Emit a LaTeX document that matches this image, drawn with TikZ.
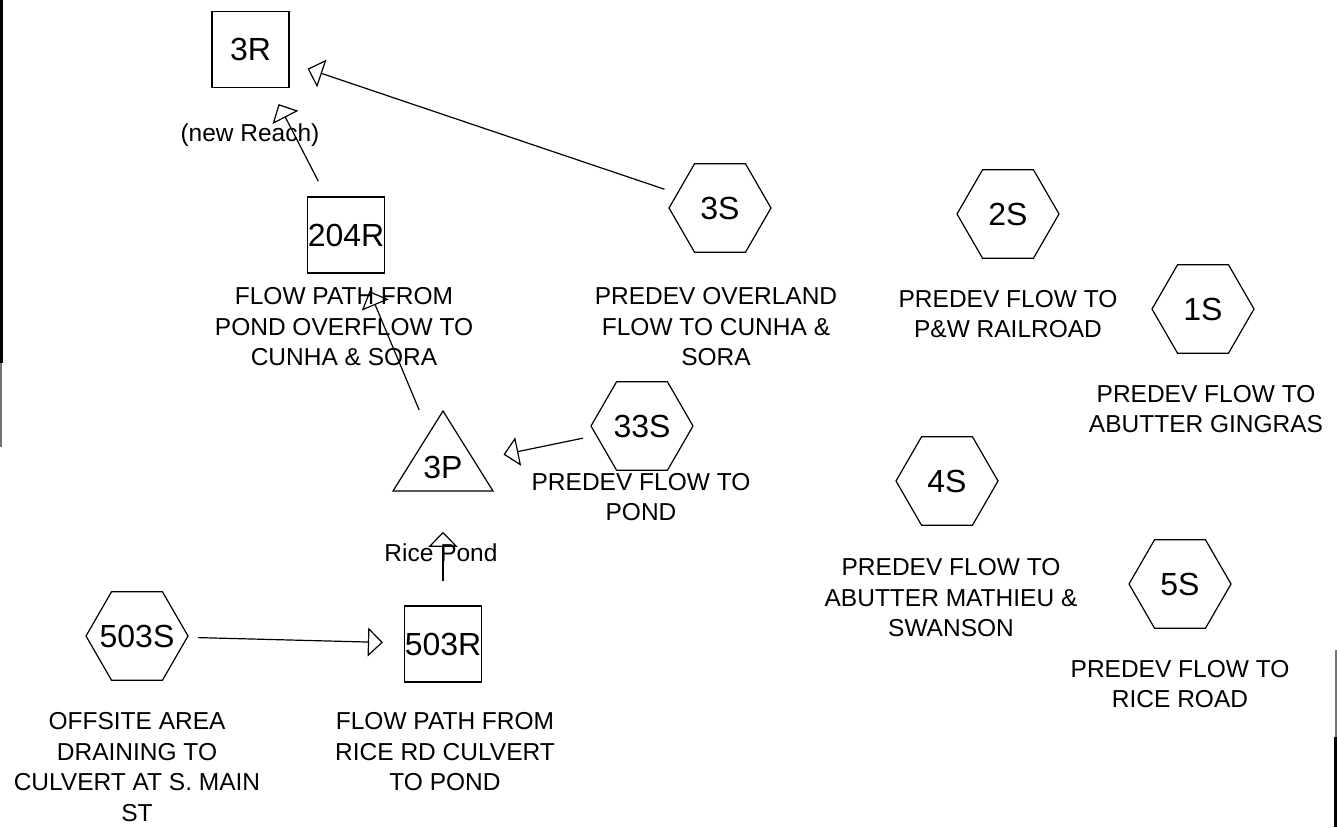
\documentclass[tikz,border=0pt]{standalone}
\usepackage{fontspec}
\setmainfont{Liberation Sans}
\usetikzlibrary{arrows.meta,shapes.geometric}
\begin{document}
\begin{tikzpicture}[x=1pt,y=-1pt,
  lbl/.style={align=center, font=\fontsize{24.5}{30.5}\selectfont, inner sep=0pt},
  nodefont/.style={font=\fontsize{32}{38}\selectfont},
  hexnode/.style={draw, line width=1.2pt, regular polygon, regular polygon sides=6,
    minimum size=102pt, inner sep=0pt, nodefont},
  boxnode/.style={draw, line width=1.2pt, rectangle, minimum width=77pt,
    minimum height=76pt, inner sep=0pt, nodefont},
  flow/.style={line width=1.2pt, -{Triangle[open, length=15pt, width=29pt]}}
]
\useasboundingbox[fill=white] (0,0) rectangle (1337,827);

% scan edge marks
\fill[black] (0,0) rectangle (3,363);
\fill[black!55] (0,363) rectangle (2,447);
\fill[black!55] (1335,650) rectangle (1337,737);
\fill[black] (1334,737) rectangle (1337,827);

% nodes
\node[boxnode] (n3R) at (250.5,49.5) {3R};
\node[boxnode] (n204R) at (346,235) {204R};
\node[boxnode] (n503R) at (443,644) {503R};

\node[hexnode] (n3S) at (720,208) {3S};
\node[hexnode] (n2S) at (1008,214) {2S};
\node[hexnode] (n1S) at (1203,309) {1S};
\node[hexnode] (n33S) at (642,426) {33S};
\node[hexnode] (n4S) at (947,481) {4S};
\node[hexnode] (n5S) at (1180,584) {5S};
\node[hexnode] (n503S) at (137,636) {\makebox[50pt]{503S}};

\node[circle, minimum size=40pt, inner sep=0pt, nodefont] (n3P) at (443,467) {3P};
\draw[line width=1.2pt] (443,411) -- (493,491) -- (393,491) -- cycle;

% labels
\node[lbl] (l3R) at (250,135) {(new Reach)};
\node[lbl] (l204R) at (344,327) {FLOW PATH FROM\\POND OVERFLOW TO\\CUNHA \& SORA};
\node[lbl] (l3S) at (716,327) {PREDEV OVERLAND\\FLOW TO CUNHA \&\\SORA};
\node[lbl] (l2S) at (1008,314) {PREDEV FLOW TO\\P\&W RAILROAD};
\node[lbl] (l1S) at (1206,409) {PREDEV FLOW TO\\ABUTTER GINGRAS};
\node[lbl] (l33S) at (641,497) {PREDEV FLOW TO\\POND};
\node[lbl] (l4S) at (951,598) {PREDEV FLOW TO\\ABUTTER MATHIEU \&\\SWANSON};
\node[lbl] (l5S) at (1180,684) {PREDEV FLOW TO\\RICE ROAD};
\node[lbl] (l503S) at (137,767) {OFFSITE AREA\\DRAINING TO\\CULVERT AT S. MAIN\\ST};
\node[lbl] (l503R) at (445,752) {FLOW PATH FROM\\RICE RD CULVERT\\TO POND};
\node[lbl] (l3P) at (441,553) {Rice Pond};

% connectors
\draw[flow, shorten <=13pt, shorten >=19pt] (n3S) -- (n3R);
\draw[flow, shorten <=17pt, shorten >=18pt] (n204R) -- (n3R);
\draw[flow, shorten <=39pt, shorten >=19pt] (n3P) -- (n204R);
\draw[flow, shorten <=13pt, shorten >=39pt] (n33S) -- (n3P);
\draw[flow, shorten <=24pt, shorten >=42pt] (n503R) -- (n3P);
\draw[flow, shorten <=10pt, shorten >=21pt] (n503S) -- (n503R);
\end{tikzpicture}
\end{document}
